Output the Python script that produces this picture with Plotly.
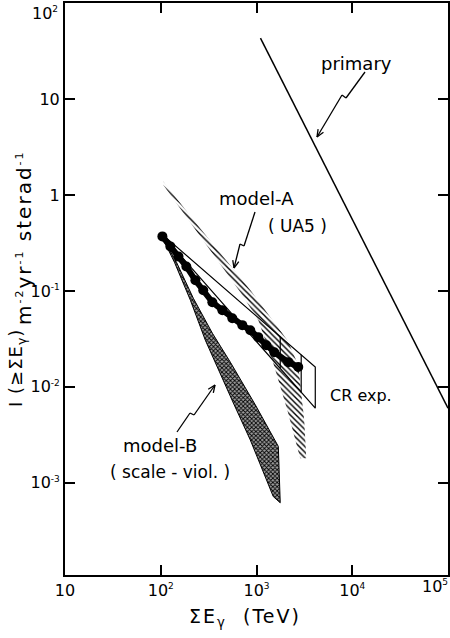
import math
import plotly.graph_objects as go

# ---- data (E in TeV, integral intensity in m^-2 yr^-1 sterad^-1) ----
primary_E = [1100, 10000, 100000]
primary_I = [43.0, 0.56, 0.0060]

modelA_E_upper = [106, 259, 861, 2100, 2730, 3150, 3310]
modelA_I_upper = [1.38, 0.448, 0.102, 0.0307, 0.0169, 0.0045, 0.0018]
modelA_E_lower = [106, 259, 678, 1045, 1496, 2100, 2860]
modelA_I_lower = [1.28, 0.370, 0.0968, 0.0495, 0.0177, 0.0057, 0.0018]

modelB_E_upper = [99, 146, 219, 346, 533, 972, 1690, 1770]
modelB_I_upper = [0.397, 0.199, 0.0838, 0.0363, 0.0181, 0.0065, 0.0024, 0.00062]
modelB_E_lower = [99, 139, 204, 292, 372, 573, 861, 1496, 1770]
modelB_I_lower = [0.397, 0.199, 0.080, 0.0307, 0.0181, 0.0068, 0.0028, 0.00072, 0.00062]

data_E = [104, 126, 153, 185, 230, 278, 346, 440, 559, 711, 861, 1044, 1266, 1534, 2148, 2731]
data_I = [0.370, 0.291, 0.229, 0.180, 0.129, 0.1016, 0.0762, 0.0630, 0.052, 0.0440,
          0.0390, 0.0330, 0.0272, 0.0230, 0.0181, 0.0161]

cr_E = [100, 4110, 4110, 100]
cr_I = [0.40, 0.0161, 0.0060, 0.40]
cr_div_E = [1770, 2930]
cr_div_hi = [0.0334, 0.0216]
cr_div_lo = [0.0156, 0.0088]

x_tickvals = [10, 100, 1000, 10000, 100000]
x_tickexp = ["", "2", "3", "4", "5"]
y_tickvals = [0.001, 0.01, 0.1, 1, 10, 100]
y_tickexp = ["-3", "-2", "-1", "", "", "2"]

# ---- canvas geometry ----
W, H = 450, 638
ML, MR, MT, MB = 65, 2, 3, 63
PW, PH = W - ML - MR, H - MT - MB
FONT = "DejaVu Sans"


def sup(s, size=9):
    return f"<sup><span style='font-size:{size}px'>{s}</span></sup>"


def spaced(s, px):
    return f"<span style='letter-spacing:{px}px'>{s}</span>"


def pow10(val, exp):
    if val == 1:
        return "1"
    if not exp:
        return "10"
    return "10" + sup(exp)


def P(px, py):
    """canvas pixel -> paper coordinates"""
    return (px - ML) / PW, (H - MB - py) / PH


fig = go.Figure()

# model-B band (stippled)
fig.add_trace(go.Scatter(
    x=modelB_E_upper + modelB_E_lower[::-1],
    y=modelB_I_upper + modelB_I_lower[::-1],
    mode="lines", fill="toself",
    line=dict(color="black", width=1),
    fillcolor="rgba(0,0,0,0)",
    fillpattern=dict(shape="x", size=3, solidity=0.5, fgcolor="black", fgopacity=1,
                     bgcolor="#a0a0a0"),
    hoverinfo="skip", showlegend=False))

# model-A band (hatched)
fig.add_trace(go.Scatter(
    x=modelA_E_upper + modelA_E_lower[::-1],
    y=modelA_I_upper + modelA_I_lower[::-1],
    mode="lines", fill="toself",
    line=dict(color="rgba(0,0,0,0)", width=0),
    fillcolor="rgba(0,0,0,0)",
    fillpattern=dict(shape="\\", size=4, solidity=0.35, fgcolor="black", fgopacity=1,
                     bgcolor="white"),
    hoverinfo="skip", showlegend=False))

# CR experiment region
fig.add_trace(go.Scatter(
    x=cr_E, y=cr_I, mode="lines",
    line=dict(color="black", width=1.2),
    hoverinfo="skip", showlegend=False))
for e, hi, lo in zip(cr_div_E, cr_div_hi, cr_div_lo):
    fig.add_trace(go.Scatter(
        x=[e, e], y=[hi, lo], mode="lines",
        line=dict(color="black", width=1.2),
        hoverinfo="skip", showlegend=False))

# measured points
fig.add_trace(go.Scatter(
    x=data_E, y=data_I, mode="lines+markers",
    line=dict(color="black", width=6),
    marker=dict(color="black", size=10),
    hoverinfo="skip", showlegend=False))

# primary spectrum
fig.add_trace(go.Scatter(
    x=primary_E, y=primary_I, mode="lines",
    line=dict(color="black", width=1.5),
    hoverinfo="skip", showlegend=False))

axis_common = dict(
    type="log", showgrid=False, zeroline=False,
    showline=True, linecolor="black", linewidth=2, mirror="ticks",
    ticks="inside", ticklen=10, tickwidth=2, tickcolor="black",
    tickfont=dict(family=FONT, size=16, color="black"),
    automargin=False,
)
# outermost labels (10^5 on x, 10^2 on y) are placed as annotations below
fig.update_xaxes(range=[1, 5], tickvals=x_tickvals,
                 ticktext=[pow10(v, e) if v != 100000 else "" for v, e in zip(x_tickvals, x_tickexp)],
                 **axis_common)
fig.update_yaxes(range=[-3.96, 2.0], tickvals=y_tickvals,
                 ticktext=[pow10(v, e) if v != 100 else "" for v, e in zip(y_tickvals, y_tickexp)],
                 **axis_common)

annotations = []


def label(text, px, py, size=17, angle=0, xanchor="center"):
    x, y = P(px, py)
    annotations.append(dict(
        text=text, x=x, y=y, xref="paper", yref="paper",
        xanchor=xanchor, yanchor="middle", showarrow=False, textangle=angle,
        font=dict(family=FONT, size=size, color="black")))


label("primary", 356, 63, 18)
label("model-A", 256, 198, 18)
label("( UA5 )", 297, 226, 17)
label("model-B", 160, 445, 18)
label("( scale - viol. )", 170, 472, 17)
label("CR exp.", 361, 395, 16)
label("10" + sup("2"), 60, 13, 16, xanchor="right")
label("10" + sup("5"), 450, 586, 16, xanchor="right")
label(spaced("ΣE<sub>γ</sub>  (TeV)", 2), 245, 617, 19)
label(spaced("I (≥ΣE<sub>γ</sub>)", 1), 17, 368, 18, angle=-90)
label(spaced("m" + sup("-2", 11) + "yr" + sup("-1", 11) + " sterad" + sup("-1", 11), 2),
      24, 238, 20, angle=-90)

shapes = []


def callout(points, head=8, spread=0.4):
    """zig-zag pointer ending in an open arrowhead at the last point"""
    for (x0, y0), (x1, y1) in zip(points[:-1], points[1:]):
        a, b = P(x0, y0)
        c, d = P(x1, y1)
        shapes.append(dict(type="line", xref="paper", yref="paper",
                           x0=a, y0=b, x1=c, y1=d,
                           line=dict(color="black", width=1.3)))
    (x0, y0), (x1, y1) = points[-2], points[-1]
    ang = math.atan2(y0 - y1, x0 - x1)
    for s in (-spread, spread):
        bx = x1 + head * math.cos(ang + s)
        by = y1 + head * math.sin(ang + s)
        a, b = P(x1, y1)
        c, d = P(bx, by)
        shapes.append(dict(type="line", xref="paper", yref="paper",
                           x0=a, y0=b, x1=c, y1=d,
                           line=dict(color="black", width=1.3)))


callout([(365, 72), (346, 98), (342, 95), (317, 137)])
callout([(255, 212), (244, 246), (240, 244), (234, 268)])
callout([(177, 432), (190, 413), (194, 415), (215, 385)])

fig.update_layout(
    width=W, height=H,
    margin=dict(l=ML, r=MR, t=MT, b=MB, pad=0),
    paper_bgcolor="white", plot_bgcolor="white",
    annotations=annotations, shapes=shapes,
    showlegend=False,
)

fig.write_html("out.html")
